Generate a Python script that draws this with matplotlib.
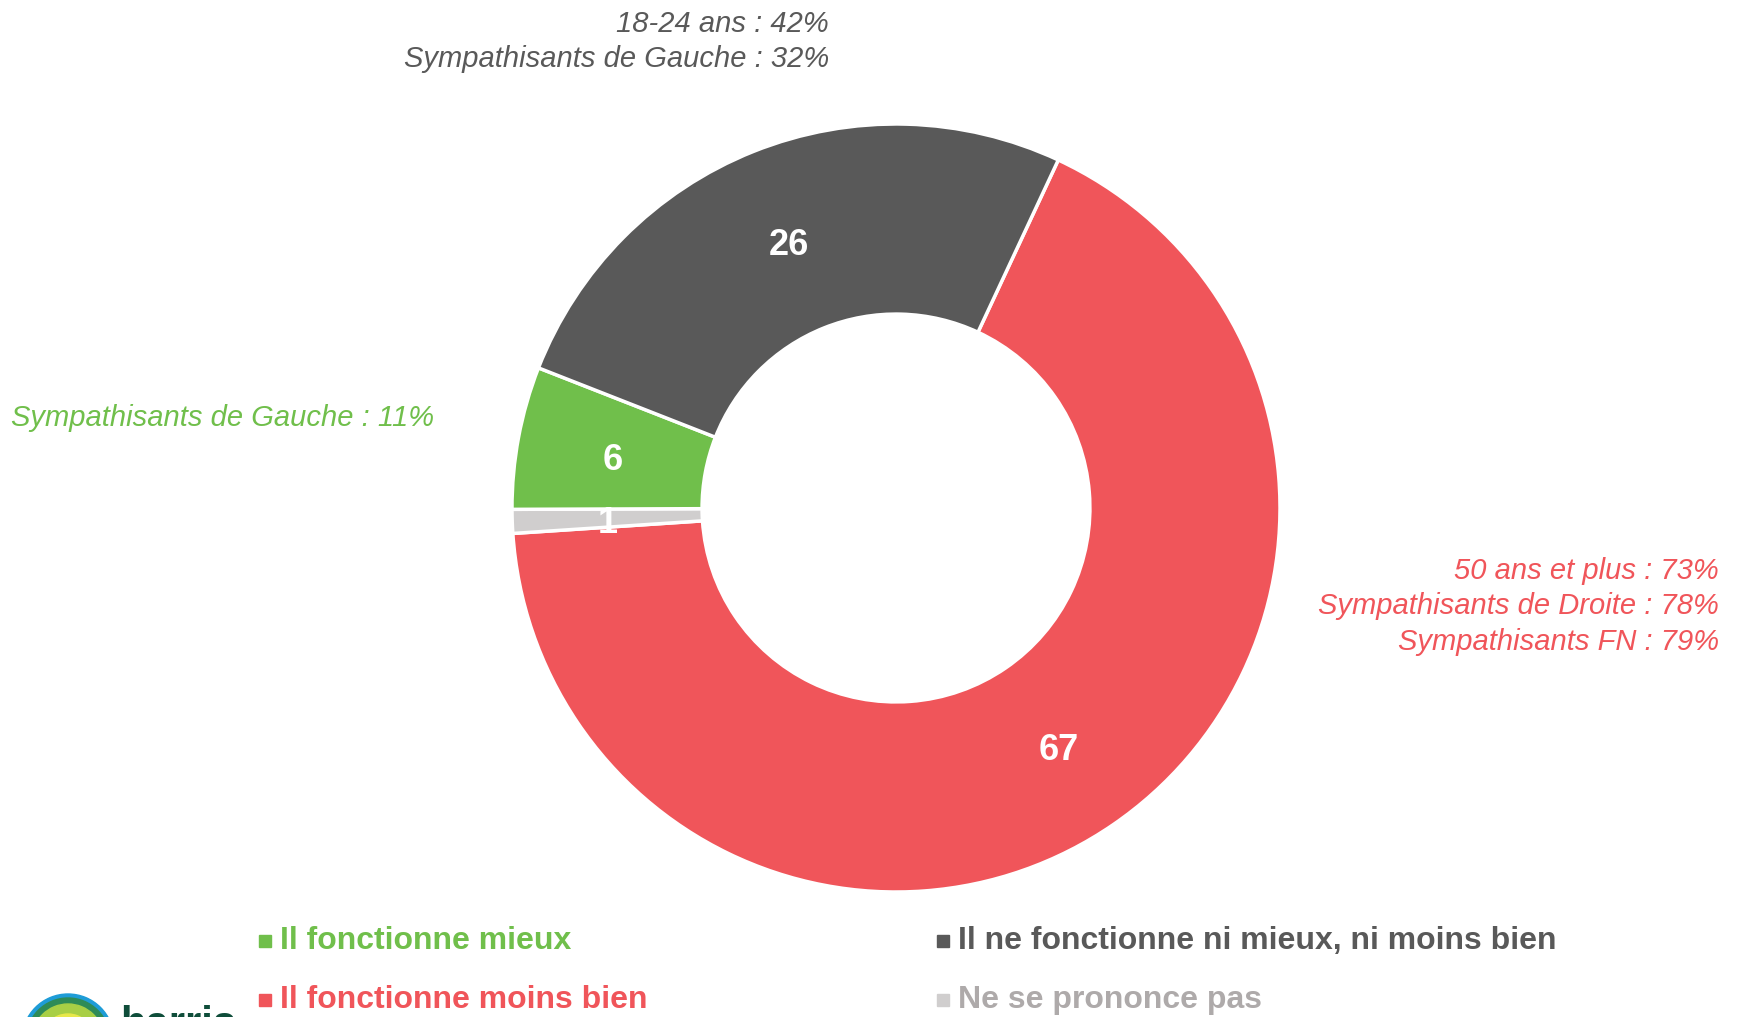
import matplotlib
matplotlib.use("Agg")
import matplotlib.pyplot as plt
from matplotlib.patches import Wedge, Rectangle

# ---------------- data ----------------
categories = ["Il fonctionne moins bien", "Ne se prononce pas",
              "Il fonctionne mieux", "Il ne fonctionne ni mieux, ni moins bien"]
values = [67, 1, 6, 26]
colors = ["#F0555A", "#D0CECE", "#70BF4B", "#595959"]

note_gray = ["18-24 ans : 42%", "Sympathisants de Gauche : 32%"]
note_green = ["Sympathisants de Gauche : 11%"]
note_red = ["50 ans et plus : 73%", "Sympathisants de Droite : 78%", "Sympathisants FN : 79%"]

# legend order as in the picture (rows: left col, right col)
legend_order = [2, 3, 0, 1]

# ---------------- figure ----------------
W, H = 1737, 1017
fig = plt.figure(figsize=(W / 100, H / 100), dpi=100)
ax = fig.add_axes([0, 0, 1, 1])
ax.set_aspect("equal")

cx, cy, R = 896, H - 508, 384
ring = 0.495

wedges, texts = ax.pie(values, colors=colors, startangle=65, counterclock=False,
                       center=(cx, cy), radius=R, labels=[str(v) for v in values],
                       labeldistance=0.75, frame=True,
                       wedgeprops=dict(width=R * ring, edgecolor="white", linewidth=2.5),
                       textprops=dict(color="white", fontsize=26, fontweight="bold",
                                      family="Liberation Sans", ha="center", va="center"))
# nudge value labels a little lower, as in the original
for t in texts:
    x, y = t.get_position()
    t.set_position((x, y - 5))
ax.set_xlim(0, W)
ax.set_ylim(0, H)
ax.axis("off")

# annotations
ital = dict(family="Liberation Sans", style="italic", fontsize=21)
for i, t in enumerate(note_gray):
    ax.text(829, H - 24 - i * 35, t, color="#595959", ha="right", va="center", **ital)
ax.text(11, H - 418, note_green[0], color="#70BF4B", ha="left", va="center", **ital)
for i, t in enumerate(note_red):
    ax.text(1719, H - 571 - i * 35.5, t, color="#F0555A", ha="right", va="center", **ital)

# legend
leg_font = dict(family=["Liberation Sans Narrow", "Liberation Sans"], fontweight="bold", fontsize=23)
pos = [(265, 941), (943, 941), (265, 1000), (943, 1000)]
for k, (x, y) in zip(legend_order, pos):
    ax.add_patch(Rectangle((x - 6, H - y - 6), 12, 12, color=colors[k]))
    col = colors[k] if k != 1 else "#AEAAAA"
    ax.text(x + 15, H - y, categories[k], color=col, ha="left", va="center", **leg_font)

# logo (cut off at bottom edge)
lx, ly = 68, H - 1040
for r, c in [(46, "#1E9CD7"), (42, "#2E8B57"), (36, "#A8CF45"), (26, "#E8E84A")]:
    ax.add_patch(Wedge((lx, ly), r, 0, 360, color=c))
ax.text(120, H - 1025, "harris", color="#0F4D3A", fontsize=30, fontweight="bold",
        family="Liberation Sans", ha="left", va="center")

fig.savefig("out.png", dpi=100)
